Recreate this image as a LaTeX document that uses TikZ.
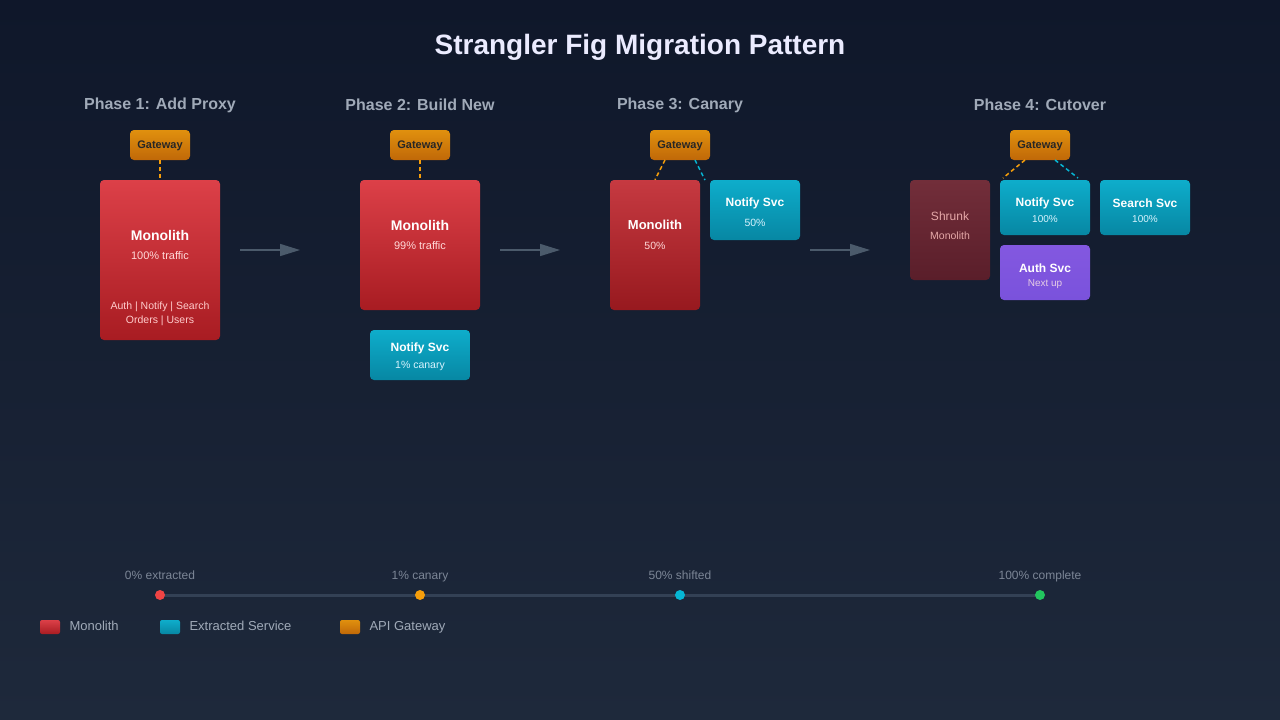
\documentclass[tikz,border=0pt]{standalone}
\usepackage{fontspec}
\setmainfont{Liberation Sans}
\usetikzlibrary{arrows.meta}
\definecolor{bgA}{HTML}{0F172A}\definecolor{bgB}{HTML}{1E293B}
\definecolor{redT}{HTML}{DC4048}\definecolor{redB}{HTML}{A81C22}
\definecolor{cyT}{HTML}{0EADCB}\definecolor{cyB}{HTML}{0787A3}
\definecolor{orT}{HTML}{E0900E}\definecolor{orB}{HTML}{C06808}
\definecolor{shT}{HTML}{722E3A}\definecolor{shB}{HTML}{5A1E2A}
\definecolor{puT}{HTML}{8358E0}\definecolor{puB}{HTML}{7A52DC}
\definecolor{phase}{HTML}{A0AAB8}\definecolor{muted}{HTML}{7C8696}
\definecolor{arr}{HTML}{4B5A6B}\definecolor{dotO}{HTML}{F59E0B}
\definecolor{tline}{HTML}{334155}
\definecolor{dotC}{HTML}{06B6D4}\definecolor{dotG}{HTML}{22C55E}\definecolor{dotR}{HTML}{EF4444}
\begin{document}
\begin{tikzpicture}[x=1pt,y=-1pt,
 box/.style={rounded corners=4pt,inner sep=0pt,align=center,text=white},
 mono/.style={box,top color=redT,bottom color=redB},
 svc/.style={box,top color=cyT,bottom color=cyB},
 gw/.style={box,top color=orT,bottom color=orB,minimum width=60pt,minimum height=30pt,font=\bfseries\fontsize{11}{11}\selectfont,text=black!85,text height=6pt,text depth=0pt},
 ph/.style={font=\bfseries\fontsize{16}{16}\selectfont,text=phase},
 flow/.style={arr,line width=1.5pt,-{Triangle[length=20pt,width=12pt]}},
 gl/.style={dotO,line width=1.5pt,dash pattern=on 4pt off 3pt},
 cl/.style={dotC,line width=1.5pt,dash pattern=on 4pt off 3pt},
 tl/.style={font=\fontsize{12}{12}\selectfont,text=muted,text height=9pt,text depth=2pt},
 lg/.style={font=\fontsize{13}{13}\selectfont,text=phase,anchor=west,text height=9pt,text depth=2pt},
 sw/.style={rounded corners=2pt,minimum width=20pt,minimum height=14pt,inner sep=0pt}]
\shade[shading angle=135,top color=bgA,bottom color=bgB] (0,0) rectangle (1280,720);
\useasboundingbox (0,0) rectangle (1280,720);
\node[font=\bfseries\fontsize{28}{28}\selectfont,text=white!92!blue] (title) at (640,47) {Strangler Fig Migration Pattern};
\node[ph] (p1) at (160,105) {Phase 1: Add Proxy};
\node[ph] (p2) at (420,105) {Phase 2: Build New};
\node[ph] (p3) at (680,105) {Phase 3: Canary};
\node[ph] (p4) at (1040,105) {Phase 4: Cutover};
% phase 1
\node[gw] (g1) at (160,145) {Gateway};
\node[mono,minimum width=120pt,minimum height=160pt] (m1) at (160,260) {};
\node[text=white,font=\bfseries\fontsize{14}{14}\selectfont] (m1t) at (160,235) {Monolith};
\node[text=white!85!red,font=\fontsize{11}{11}\selectfont] (m1s) at (160,256) {100\% traffic};
\node[text=white!80!red,font=\fontsize{10.5}{14.5}\selectfont,align=center] (m1f) at (160,314) {Auth | Notify | Search\\Orders | Users};
\draw[gl] (g1.south) -- (m1.north);
\coordinate (a1s) at (240,250);\coordinate (a1e) at (300,250);
\draw[flow] (a1s) -- (a1e);
% phase 2
\node[gw] (g2) at (420,145) {Gateway};
\node[mono,minimum width=120pt,minimum height=130pt] (m2) at (420,245) {};
\node[text=white,font=\bfseries\fontsize{14}{14}\selectfont] (m2t) at (420,225) {Monolith};
\node[text=white!85!red,font=\fontsize{11}{11}\selectfont] (m2s) at (420,246) {99\% traffic};
\draw[gl] (g2.south) -- (m2.north);
\node[svc,minimum width=100pt,minimum height=50pt] (n2) at (420,355) {};
\node[text=white,font=\bfseries\fontsize{12}{12}\selectfont] (n2t) at (420,348) {Notify Svc};
\node[text=white!85!cyan,font=\fontsize{10.5}{10.5}\selectfont] (n2s) at (420,366) {1\% canary};
\coordinate (a2s) at (500,250);\coordinate (a2e) at (560,250);
\draw[flow] (a2s) -- (a2e);
% phase 3
\node[gw] (g3) at (680,145) {Gateway};
\node[mono,top color=redT!90!black,bottom color=redB!90!black,minimum width=90pt,minimum height=130pt] (m3) at (655,245) {};
\node[text=white,font=\bfseries\fontsize{13}{13}\selectfont] (m3t) at (655,225) {Monolith};
\node[text=white!85!red,font=\fontsize{10.5}{10.5}\selectfont] (m3s) at (655,246) {50\%};
\node[svc,minimum width=90pt,minimum height=60pt] (n3) at (755,210) {};
\node[text=white,font=\bfseries\fontsize{12}{12}\selectfont] (n3t) at (755,203) {Notify Svc};
\node[text=white!85!cyan,font=\fontsize{10.5}{10.5}\selectfont] (n3s) at (755,223) {50\%};
\coordinate (c3a) at (665,160);\coordinate (c3b) at (695,160);\coordinate (c3c) at (705,180);
\draw[gl] (c3a) -- (m3.north);
\draw[cl] (c3b) -- (c3c);
\coordinate (a3s) at (810,250);\coordinate (a3e) at (870,250);
\draw[flow] (a3s) -- (a3e);
% phase 4
\node[gw] (g4) at (1040,145) {Gateway};
\node[box,top color=shT,bottom color=shB,minimum width=80pt,minimum height=100pt] (s4) at (950,230) {};
\node[text=red!30!white!80!gray,font=\fontsize{12}{12}\selectfont] (s4t) at (950,216) {Shrunk};
\node[text=red!30!white!80!gray,font=\fontsize{10.5}{10.5}\selectfont] (s4s) at (950,236) {Monolith};
\node[svc,minimum width=90pt,minimum height=55pt] (n4) at (1045,207.5) {};
\node[text=white,font=\bfseries\fontsize{12}{12}\selectfont] (n4t) at (1045,203) {Notify Svc};
\node[text=white!85!cyan,font=\fontsize{10}{10}\selectfont] (n4s) at (1045,219) {100\%};
\node[svc,minimum width=90pt,minimum height=55pt] (q4) at (1145,207.5) {};
\node[text=white,font=\bfseries\fontsize{12}{12}\selectfont] (q4t) at (1145,203) {Search Svc};
\node[text=white!85!cyan,font=\fontsize{10}{10}\selectfont] (q4s) at (1145,219) {100\%};
\node[box,top color=puT,bottom color=puB,minimum width=90pt,minimum height=55pt] (u4) at (1045,272.5) {};
\node[text=white,font=\bfseries\fontsize{12}{12}\selectfont] (u4t) at (1045,268) {Auth Svc};
\node[text=white!80!violet,font=\fontsize{10}{10}\selectfont] (u4s) at (1045,284) {Next up};
\coordinate (c4a) at (1025,160);\coordinate (c4b) at (1003,178);
\coordinate (c4c) at (1055,160);\coordinate (c4d) at (1078,178);
\draw[gl] (c4a) -- (c4b);
\draw[cl] (c4c) -- (c4d);
% timeline
\node[tl] (t1) at (160,576) {0\% extracted};
\node[tl] (t2) at (420,576) {1\% canary};
\node[tl] (t3) at (680,576) {50\% shifted};
\node[tl] (t4) at (1040,576) {100\% complete};
\draw[tline,line width=3pt] (160,595) -- (1040,595);
\node[circle,fill=dotR,inner sep=0pt,minimum size=10pt] (d1) at (160,595) {};
\node[circle,fill=dotO,inner sep=0pt,minimum size=10pt] (d2) at (420,595) {};
\node[circle,fill=dotC,inner sep=0pt,minimum size=10pt] (d3) at (680,595) {};
\node[circle,fill=dotG,inner sep=0pt,minimum size=10pt] (d4) at (1040,595) {};
% legend
\node[sw,top color=redT,bottom color=redB] (l1) at (50,627) {};
\node[lg] (l1t) at (66,627) {Monolith};
\node[sw,top color=cyT,bottom color=cyB] (l2) at (170,627) {};
\node[lg] (l2t) at (186,627) {Extracted Service};
\node[sw,top color=orT,bottom color=orB] (l3) at (350,627) {};
\node[lg] (l3t) at (366,627) {API Gateway};
\end{tikzpicture}
\end{document}
